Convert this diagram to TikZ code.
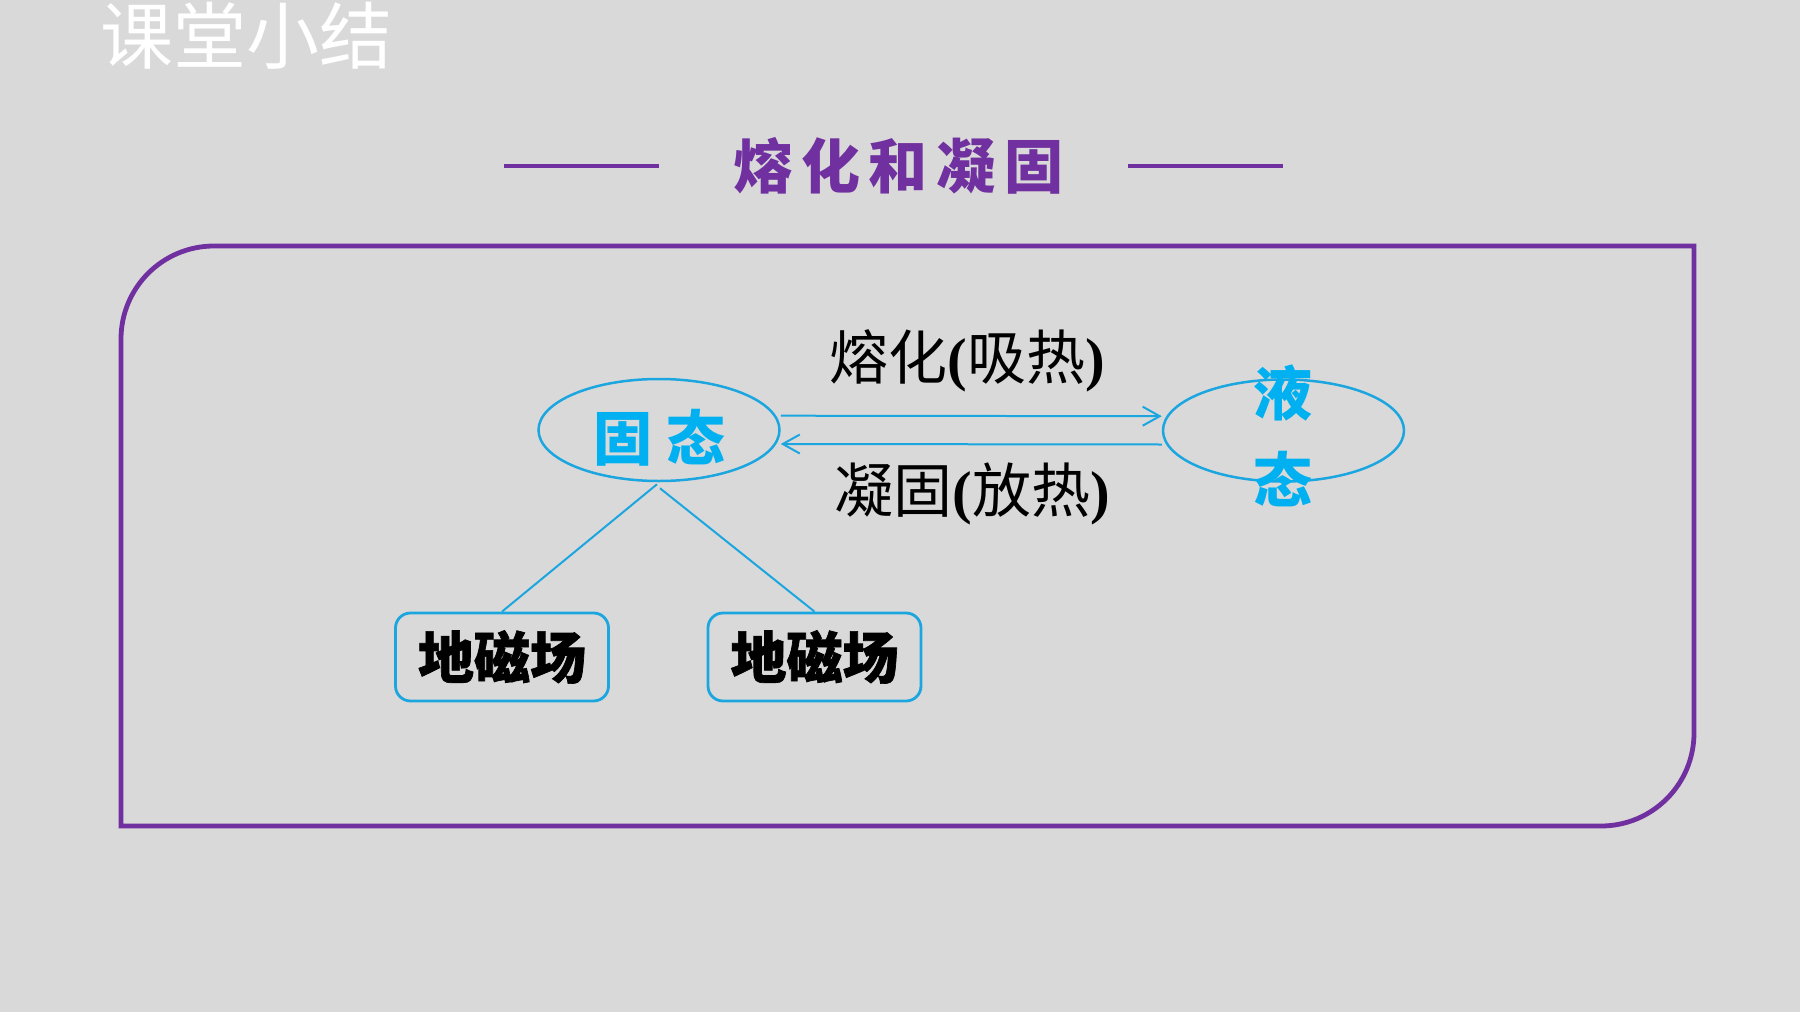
\documentclass[tikz,border=0pt]{standalone}
\usepackage{fontspec}
\newfontfamily\cjk{Noto Sans CJK SC}
\newfontfamily\cjkheavy{Noto Sans CJK SC}[BoldFeatures={FakeBold=1.2}]
\newfontfamily\tnr{Liberation Serif}
\usetikzlibrary{shapes.geometric,arrows.meta,calc}
\definecolor{bg}{HTML}{D9D9D9}
\definecolor{vio}{HTML}{7030A0}
\definecolor{sky}{HTML}{00B0F0}
\definecolor{skyline}{HTML}{1CA6E0}
\begin{document}
\begin{tikzpicture}[x=0.5pt,y=-0.5pt,
  ellip/.style={ellipse, draw=skyline, line width=1.25pt, minimum width=120.5pt, minimum height=51pt, inner sep=0pt},
  bluetxt/.style={font=\cjk\bfseries\fontsize{29.5pt}{43.5pt}\selectfont, text=sky, inner sep=0pt},
  titletxt/.style={font=\cjk\fontsize{36.5pt}{40pt}\selectfont, text=white, inner sep=0pt},
  headtxt/.style={font=\cjk\bfseries\fontsize{29.5pt}{32pt}\selectfont, text=vio, inner sep=0pt},
  songtxt/.style={font=\cjk\fontsize{29.5pt}{32pt}\selectfont, text=black, inner sep=0pt},
  magbox/.style={draw=skyline, line width=1.4pt, rounded corners=7.5pt, minimum width=106.5pt, minimum height=44pt, inner sep=0pt, font=\cjkheavy\bfseries\fontsize{28pt}{30pt}\selectfont, text=black},
  arr/.style={draw=skyline, line width=1pt},
  conn/.style={draw=skyline, line width=1pt},
  frame/.style={draw=vio, line width=2.4pt, line join=miter},
  headline/.style={draw=vio, line width=1.6pt}
]
\fill[bg] (0,0) rectangle (1800,1012);
\useasboundingbox (0,0) rectangle (1800,1012);

% page title
\node[titletxt] (ttl) at (246.5,36) {课堂小结};

% heading
\node[headtxt] (head) at (898.5,166) {熔\hspace{4.3pt}化\hspace{4.3pt}和\hspace{4.3pt}凝\hspace{4.3pt}固};
\coordinate (hl1) at (504,166);
\coordinate (hl2) at (659,166);
\coordinate (hr1) at (1128,166);
\coordinate (hr2) at (1283,166);
\draw[headline] (hl1) -- (hl2);
\draw[headline] (hr1) -- (hr2);

% frame
\draw[frame] (121,826) -- (121,339) arc (180:270:93) -- (1694,246) -- (1694,733) arc (0:90:93) -- cycle;

% states
\node[ellip] (gu) at (659,430) {};
\node[bluetxt] (gut) at (659.5,437.5) {固\hspace{7.5pt}态};
\node[ellip] (ye) at (1283.5,430.5) {};
\node[bluetxt, align=center] (yet) at (1283,436) {液\\态};

% arrows
\draw[arr, -{Straight Barb[length=8.5pt,width=9.5pt]}] ($(gu.east)+(0,-14.3)$) -- ($(ye.west)+(0,-14.3)$);
\draw[arr, -{Straight Barb[length=8.5pt,width=9.5pt]}] ($(ye.west)+(0,14)$) -- ($(gu.east)+(0,14)$);

\node[songtxt] (melt) at (967,361) {熔化{\tnr\bfseries (}吸热{\tnr\bfseries )}};
\node[songtxt] (frz) at (972,494) {凝固{\tnr\bfseries (}放热{\tnr\bfseries )}};

% boxes
\node[magbox] (m1) at (502,657) {地磁场};
\node[magbox] (m2) at (814.5,657) {地磁场};
\draw[conn] ($(gu.south)+(-2,2)$) -- (m1.north);
\draw[conn] ($(gu.south)+(1,6)$) -- (m2.north);
\end{tikzpicture}
\end{document}
